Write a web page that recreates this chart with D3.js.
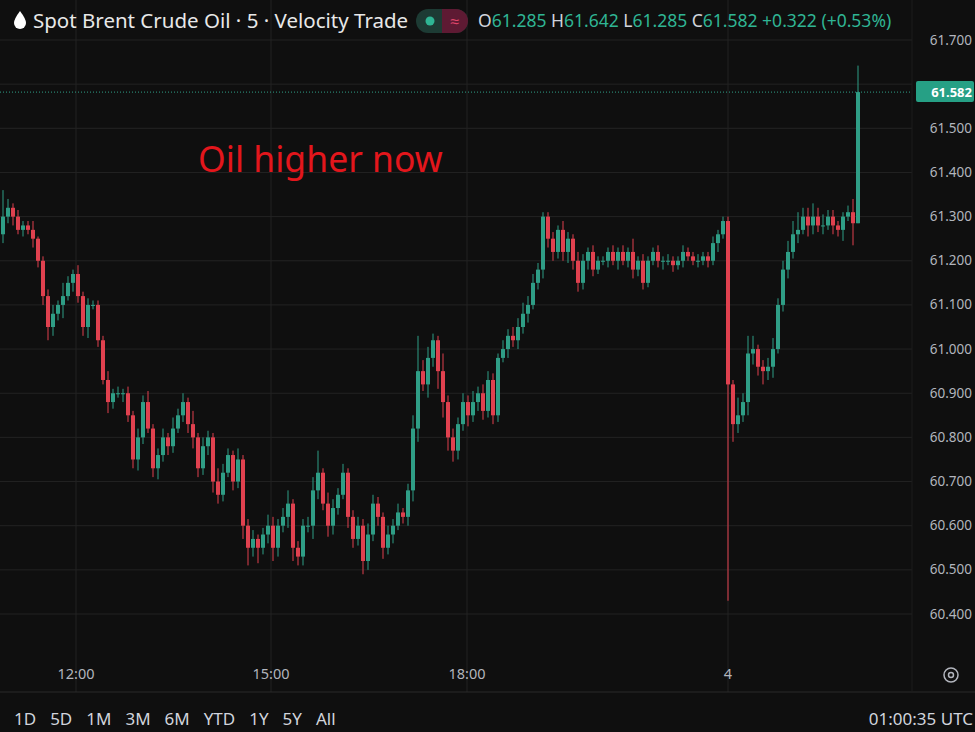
<!DOCTYPE html>
<html><head><meta charset="utf-8">
<script src="https://cdn.jsdelivr.net/npm/d3@7"></script>
<style>body{margin:0;background:#0f0f0f;overflow:hidden}svg{display:block}</style>
</head><body><svg id="c" width="975" height="732"></svg>
<script>
const closes=[61.30,61.32,61.30,61.27,61.28,61.27,61.25,61.20,61.12,61.05,
61.08,61.10,61.12,61.15,61.17,61.12,61.05,61.10,61.10,61.02,
60.93,60.88,60.90,60.90,60.90,60.85,60.75,60.80,60.88,60.82,
60.73,60.76,60.80,60.78,60.82,60.85,60.88,60.83,60.80,60.73,
60.78,60.80,60.70,60.67,60.72,60.76,60.70,60.75,60.60,60.55,
60.57,60.55,60.58,60.60,60.55,60.60,60.62,60.65,60.55,60.53,
60.60,60.60,60.68,60.72,60.65,60.60,60.64,60.67,60.72,60.62,
60.57,60.60,60.52,60.58,60.65,60.62,60.55,60.58,60.60,60.63,
60.62,60.68,60.82,60.95,60.92,60.98,61.02,60.95,60.88,60.80,
60.77,60.83,60.88,60.85,60.88,60.90,60.86,60.93,60.85,60.98,
61.00,61.03,61.02,61.05,61.08,61.10,61.15,61.18,61.30,61.25,
61.22,61.27,61.22,61.25,61.20,61.15,61.20,61.22,61.18,61.20,
61.20,61.22,61.20,61.22,61.20,61.22,61.18,61.20,61.15,61.20,
61.22,61.20,61.20,61.20,61.19,61.20,61.22,61.21,61.20,61.20,
61.21,61.20,61.24,61.26,61.29,60.92,
60.83,60.85,60.88,60.99,61.00,60.96,60.95,60.96,61.00,61.10,
61.18,61.22,61.26,61.27,61.30,61.28,61.30,61.28,61.28,61.30,
61.28,61.27,61.30,61.31,61.285,61.582];
const firstOpen=61.26;
const wickUp=[60,20,10,15,10,10,20,5,10,15, 20,10,30,15,10,20,10,15,10,10, 10,20,10,15,10,15,10,20,15,25, 10,15,20,10,25,15,20,10,30,10, 20,15,10,30,20,15,10,25,10,15, 20,10,15,25,20,15,20,30,10,15, 15,20,30,50,10,25,20,15,20,10, 15,20,15,25,20,15,10,20,15,20, 10,15,30,80,25,25,15,10,40,15, 20,15,20,15,25,15,20,20,15,10, 20,15,20,20,25,20,20,15,10,10, 15,10,20,15,10,20,15,10,15,10, 10,10,15,10,15,10,30,10,15,10, 10,15,10,15,10,10,15,10,10,15, 10,10,15,10,10,10, 10,40,20,40,30,10,15,20,25,15, 20,25,30,40,20,20,30,20,25,15, 15,10,10,15,30,60];
const wickDn=[20,15,20,10,15,10,20,15,20,30, 20,15,30,10,20,15,20,25,10,15, 10,25,15,10,20,15,20,25,15,10, 20,25,15,20,15,10,15,20,25,20, 15,20,25,20,15,10,20,15,30,40, 20,35,15,20,30,20,15,25,30,20, 20,15,30,20,15,25,20,15,10,25, 20,15,30,20,15,20,25,15,20,10, 15,20,25,30,15,30,20,40,35,30, 25,20,15,25,15,20,20,15,20,15, 10,20,15,20,15,20,10,15,20,20, 20,15,20,25,20,20,15,20,15,10, 10,15,10,20,10,15,20,15,15,10, 10,15,20,10,15,10,15,10,10,15, 10,15,10,20,10,490, 40,20,15,30,25,20,30,20,25,10, 15,20,15,20,10,25,20,15,20,10, 20,15,25,10,50,0];
const priceTicks=[61.7,61.6,61.5,61.4,61.3,61.2,61.1,61.0,60.9,60.8,60.7,60.6,60.5,60.4];
const timeTicks=[{i:14.6,label:"12:00"},{i:53.6,label:"15:00"},{i:92.8,label:"18:00"},{i:145,label:"4"}];
const ranges=["1D","5D","1M","3M","6M","YTD","1Y","5Y","All"];
const lastPrice=61.582;

const data=closes.map((c,i)=>{const o=i?closes[i-1]:firstOpen;
 return {i,o,c,h:Math.max(o,c)+wickUp[i]/1000,l:Math.min(o,c)-wickDn[i]/1000};});
data[170].o=61.31;
data[171].o=61.285; data[171].h=61.642; data[171].l=61.285;

const svg=d3.select("#c");
const W=912,H=692;
const UP="#2f9e86",DN="#e0414f",GRID="#232323",TXT="#b2b5bd";
svg.append("rect").attr("width",975).attr("height",732).attr("fill","#0f0f0f");
const x=d3.scaleLinear().domain([0,171]).range([3,858]);
const y=d3.scaleLinear().domain([60.4,61.7]).range([614,40]);

const g=svg.append("g");
g.selectAll(".hg").data(priceTicks).join("line").attr("x1",0).attr("x2",W)
 .attr("y1",d=>y(d)).attr("y2",d=>y(d)).attr("stroke",GRID);
g.selectAll(".vg").data(timeTicks).join("line").attr("y1",0).attr("y2",H)
 .attr("x1",d=>x(d.i)).attr("x2",d=>x(d.i)).attr("stroke",GRID);
svg.append("line").attr("x1",0).attr("x2",975).attr("y1",H).attr("y2",H).attr("stroke","#2a2a2a");
svg.append("line").attr("x1",W).attr("x2",W).attr("y1",0).attr("y2",H).attr("stroke","#1c1c1c");

const cg=svg.append("g");
cg.selectAll("line").data(data).join("line").attr("x1",d=>x(d.i)).attr("x2",d=>x(d.i))
 .attr("y1",d=>y(d.h)).attr("y2",d=>y(d.l)).attr("stroke",d=>d.c>=d.o?UP:DN).attr("stroke-width",1);
cg.selectAll("rect").data(data).join("rect").attr("x",d=>x(d.i)-2).attr("width",4)
 .attr("y",d=>y(Math.max(d.o,d.c))).attr("height",d=>Math.max(1,Math.abs(y(d.o)-y(d.c))))
 .attr("fill",d=>d.c>=d.o?UP:DN);

svg.append("line").attr("x1",0).attr("x2",W).attr("y1",y(lastPrice)).attr("y2",y(lastPrice))
 .attr("stroke",UP).attr("stroke-dasharray","1,2");

const ff="'Noto Sans',sans-serif";
svg.selectAll(".pt").data(priceTicks.filter(d=>d!==61.6)).join("text").attr("x",972).attr("y",d=>y(d)+4.5)
 .attr("text-anchor","end").attr("fill",TXT).attr("font-family",ff).attr("font-size",13.5).text(d=>d.toFixed(3));
svg.append("rect").attr("x",916).attr("y",y(lastPrice)-11).attr("width",58).attr("height",21).attr("rx",2).attr("fill","#26a085");
svg.append("text").attr("x",972).attr("y",y(lastPrice)+5).attr("text-anchor","end").attr("fill","#fff")
 .attr("font-family",ff).attr("font-size",13).attr("font-weight","bold").text(lastPrice.toFixed(3));

svg.selectAll(".tt").data(timeTicks).join("text").attr("x",d=>x(d.i)).attr("y",679).attr("text-anchor","middle")
 .attr("fill",TXT).attr("font-family",ff).attr("font-size",14.5).text(d=>d.label);
svg.append("circle").attr("cx",951).attr("cy",675).attr("r",7).attr("fill","none").attr("stroke",TXT).attr("stroke-width",1.5);
svg.append("circle").attr("cx",951).attr("cy",675).attr("r",2.5).attr("fill","none").attr("stroke",TXT).attr("stroke-width",1.5);

let rx=14;
ranges.forEach(r=>{const t=svg.append("text").attr("x",rx).attr("y",725).attr("fill","#d1d4dc")
 .attr("font-family",ff).attr("font-size",17).text(r);rx+=t.node().getComputedTextLength()+14;});
svg.append("text").attr("x",973).attr("y",725).attr("text-anchor","end").attr("fill","#d1d4dc")
 .attr("font-family",ff).attr("font-size",17).text("01:00:35 UTC");

svg.append("path").attr("d","M20,11 Q14,19 14,23 A6,6 0 0 0 26,23 Q26,19 20,11Z").attr("fill","#fff");
svg.append("text").attr("x",33).attr("y",28).attr("fill","#e8e8e8").attr("font-family",ff).attr("font-size",20.5).text("Spot Brent Crude Oil · 5 · Velocity Trade");
svg.append("rect").attr("x",416).attr("y",9).attr("width",52).attr("height",24).attr("rx",12).attr("fill","#1d3b34");
svg.append("path").attr("d","M442,9 h14 a12,12 0 0 1 0,24 h-14 z").attr("fill","#5e1a33");
svg.append("circle").attr("cx",430).attr("cy",21).attr("r",4.5).attr("fill","#2fb594");
svg.append("text").attr("x",455).attr("y",27).attr("text-anchor","middle").attr("fill","#e0466b").attr("font-family",ff).attr("font-size",16).text("≈");
const ohlc=[["O","61.285"],["H","61.642"],["L","61.285"],["C","61.582"]];
const ht=svg.append("text").attr("x",478).attr("y",27).attr("font-family",ff).attr("font-size",17.5);
ohlc.forEach(([k,v],j)=>{ht.append("tspan").attr("fill","#d1d4dc").text((j?" ":"")+k);ht.append("tspan").attr("fill","#2fb594").text(v);});
ht.append("tspan").attr("fill","#2fb594").text(" +0.322 (+0.53%)");

svg.append("text").attr("x",198).attr("y",172).attr("fill","#e3161c").attr("font-family",ff).attr("font-size",35.5).text("Oil higher now");
</script></body></html>
